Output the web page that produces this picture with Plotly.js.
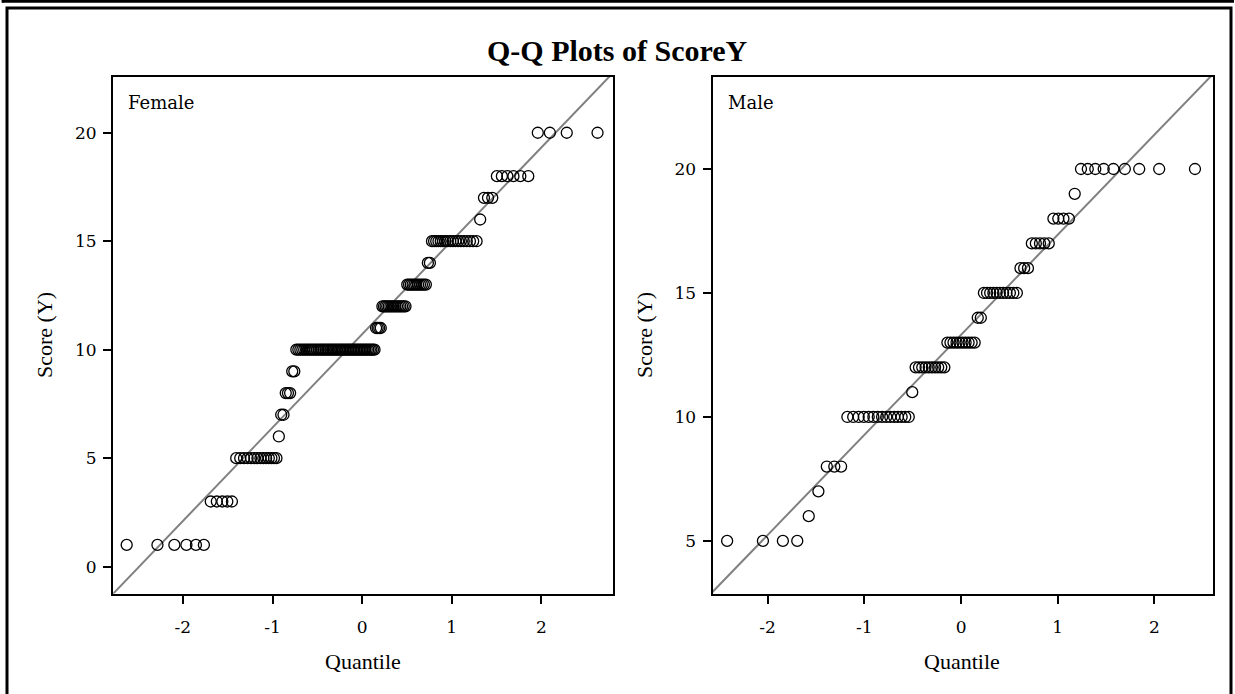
<!DOCTYPE html>
<html><head><meta charset="utf-8">
<script src="https://cdn.plot.ly/plotly-3.0.1.min.js"></script>
<style>html,body{margin:0;padding:0;background:#fff}#chart{width:1235px;height:694px}</style>
</head><body><div id="chart"></div><script>
const femaleScores = [1, 3, 5, 6, 7, 8, 9, 10, 11, 12, 13, 14, 15, 16, 17, 18, 20];
const femaleCounts = [6, 5, 14, 1, 2, 3, 2, 48, 4, 15, 11, 2, 18, 1, 3, 6, 4];
const maleScores = [5, 6, 7, 8, 10, 11, 12, 13, 14, 15, 16, 17, 18, 19, 20];
const maleCounts = [4, 1, 1, 3, 15, 1, 10, 10, 2, 11, 3, 5, 4, 1, 9];
const xTickVals = [-2, -1, 0, 1, 2];
const femaleYTicks = [0, 5, 10, 15, 20];
const maleYTicks = [5, 10, 15, 20];
const panelLabels = ['Female', 'Male'];
const chartTitle = 'Q-Q Plots of ScoreY';
const xTitle = 'Quantile';
const yTitle = 'Score (Y)';

const W = 1235, H = 694;
const px = x => x / W, py = y => 1 - y / H;

// inverse standard normal CDF (Acklam)
function qnorm(p) {
  const a = [-39.69683028665376, 220.9460984245205, -275.9285104469687, 138.3577518672690, -30.66479806614716, 2.506628277459239];
  const b = [-54.47609879822406, 161.5858368580409, -155.6989798598866, 66.80131188771972, -13.28068155288572];
  const c = [-0.007784894002430293, -0.3223964580411365, -2.400758277161838, -2.549732539343734, 4.374664141464968, 2.938163982698783];
  const d = [0.007784695709041462, 0.3224671290700398, 2.445134137142996, 3.754408661907416];
  const pl = 0.02425, ph = 1 - pl;
  let q, r;
  if (p < pl) { q = Math.sqrt(-2 * Math.log(p));
    return (((((c[0]*q+c[1])*q+c[2])*q+c[3])*q+c[4])*q+c[5]) / ((((d[0]*q+d[1])*q+d[2])*q+d[3])*q+1); }
  if (p <= ph) { q = p - 0.5; r = q*q;
    return (((((a[0]*r+a[1])*r+a[2])*r+a[3])*r+a[4])*r+a[5])*q / (((((b[0]*r+b[1])*r+b[2])*r+b[3])*r+b[4])*r+1); }
  q = Math.sqrt(-2 * Math.log(1 - p));
  return -(((((c[0]*q+c[1])*q+c[2])*q+c[3])*q+c[4])*q+c[5]) / ((((d[0]*q+d[1])*q+d[2])*q+d[3])*q+1);
}

function qq(scores, counts) {
  const ys = [];
  scores.forEach((s, i) => { for (let k = 0; k < counts[i]; k++) ys.push(s); });
  const n = ys.length;
  const xs = ys.map((_, i) => qnorm((i + 1 - 0.375) / (n + 0.25)));
  const mu = ys.reduce((a, b) => a + b, 0) / n;
  const sd = Math.sqrt(ys.reduce((a, b) => a + (b - mu) * (b - mu), 0) / (n - 1));
  return { xs, ys, mu, sd };
}

const F = qq(femaleScores, femaleCounts);
const M = qq(maleScores, maleCounts);
const lineX = [-3.2, 3.2];

const marker = { symbol: 'circle-open', size: 11, color: '#000', line: { width: 1.3, color: '#000' } };
const refLine = { color: '#808080', width: 2 };

const data = [
  { type: 'scatter', mode: 'lines', x: lineX, y: lineX.map(x => F.mu + F.sd * x), xaxis: 'x', yaxis: 'y', line: refLine, hoverinfo: 'skip' },
  { type: 'scatter', mode: 'markers', x: F.xs, y: F.ys, xaxis: 'x', yaxis: 'y', marker: marker, name: 'Female' },
  { type: 'scatter', mode: 'lines', x: lineX, y: lineX.map(x => M.mu + M.sd * x), xaxis: 'x2', yaxis: 'y2', line: refLine, hoverinfo: 'skip' },
  { type: 'scatter', mode: 'markers', x: M.xs, y: M.ys, xaxis: 'x2', yaxis: 'y2', marker: marker, name: 'Male' }
];

const tickFont = { family: 'DejaVu Serif', size: 17, color: '#000' };
const axBase = {
  showline: true, linewidth: 2, linecolor: '#000', mirror: true,
  showgrid: false, zeroline: false, ticks: 'outside', ticklen: 8, tickwidth: 2, tickcolor: '#000',
  tickfont: tickFont, fixedrange: true
};
const yDom = [py(593.5), py(77)];

const layout = {
  width: W, height: H, margin: { l: 0, r: 0, t: 0, b: 0 },
  paper_bgcolor: '#fff', plot_bgcolor: '#fff', showlegend: false,
  xaxis: Object.assign({}, axBase, { domain: [px(113), px(613)], range: [-2.78, 2.80], tickvals: xTickVals, ticktext: xTickVals.map(String), ticklabelstandoff: 9, anchor: 'y' }),
  yaxis: Object.assign({}, axBase, { domain: yDom, range: [-1.24, 22.57], tickvals: femaleYTicks, ticktext: femaleYTicks.map(String), ticklabelstandoff: 3, anchor: 'x' }),
  xaxis2: Object.assign({}, axBase, { domain: [px(712.5), px(1212.5)], range: [-2.57, 2.60], tickvals: xTickVals, ticktext: xTickVals.map(String), ticklabelstandoff: 9, anchor: 'y2' }),
  yaxis2: Object.assign({}, axBase, { domain: yDom, range: [2.88, 23.71], tickvals: maleYTicks, ticktext: maleYTicks.map(String), ticklabelstandoff: 3, anchor: 'x2' }),
  annotations: [
    { text: '<b>' + chartTitle + '</b>', xref: 'paper', yref: 'paper', x: px(617), y: py(50), xanchor: 'center', yanchor: 'middle', showarrow: false, font: { family: 'Liberation Serif', size: 30, color: '#000' } },
    { text: panelLabels[0], xref: 'paper', yref: 'paper', x: px(126), y: py(102), xanchor: 'left', yanchor: 'middle', showarrow: false, font: { family: 'DejaVu Serif', size: 18, color: '#000' } },
    { text: panelLabels[1], xref: 'paper', yref: 'paper', x: px(726), y: py(102), xanchor: 'left', yanchor: 'middle', showarrow: false, font: { family: 'DejaVu Serif', size: 18, color: '#000' } },
    { text: xTitle, xref: 'paper', yref: 'paper', x: px(362.5), y: py(661), xanchor: 'center', yanchor: 'middle', showarrow: false, font: { family: 'Liberation Serif', size: 22, color: '#000' } },
    { text: xTitle, xref: 'paper', yref: 'paper', x: px(962), y: py(661), xanchor: 'center', yanchor: 'middle', showarrow: false, font: { family: 'Liberation Serif', size: 22, color: '#000' } },
    { text: yTitle, xref: 'paper', yref: 'paper', x: px(45), y: py(335), xanchor: 'center', yanchor: 'middle', textangle: -90, showarrow: false, font: { family: 'Liberation Serif', size: 22, color: '#000' } },
    { text: yTitle, xref: 'paper', yref: 'paper', x: px(645), y: py(335), xanchor: 'center', yanchor: 'middle', textangle: -90, showarrow: false, font: { family: 'Liberation Serif', size: 22, color: '#000' } }
  ],
  shapes: [
    { type: 'line', xref: 'paper', yref: 'paper', x0: px(2), x1: px(1234), y0: py(1.3), y1: py(1.3), line: { color: '#000', width: 3 } },
    { type: 'line', xref: 'paper', yref: 'paper', x0: px(2.8), x1: px(2.8), y0: py(0), y1: py(2.5), line: { color: '#000', width: 2.5 } },
    { type: 'rect', xref: 'paper', yref: 'paper', x0: px(7), x1: px(1231), y0: py(8), y1: py(710), line: { color: '#000', width: 3 } }
  ]
};

Plotly.newPlot('chart', data, layout, { displayModeBar: false, staticPlot: true });
</script></body></html>
